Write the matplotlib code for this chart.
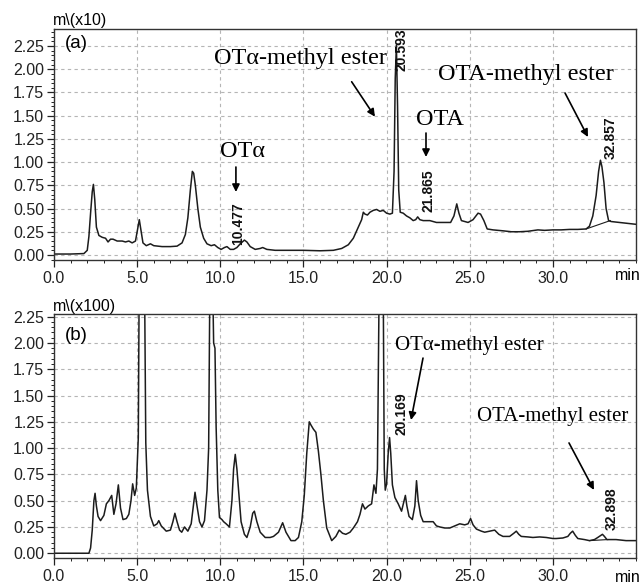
import matplotlib

matplotlib.use("Agg")

import matplotlib.pyplot as plt
from matplotlib.ticker import MultipleLocator, FormatStrFormatter

# chromatogram (a): retention time (min), signal (mV x10)
t_a = [0.0, 1.0, 1.8, 2.0, 2.1, 2.2, 2.3, 2.37, 2.45, 2.55, 2.7, 2.9, 3.1, 3.25, 3.4,
       3.55, 3.8, 4.1, 4.3, 4.5, 4.7, 4.9, 5.0, 5.13, 5.25, 5.35, 5.55, 5.8, 6.0, 6.5,
       7.0, 7.4, 7.7, 7.9, 8.05, 8.2, 8.32, 8.4, 8.5, 8.65, 8.8, 9.0, 9.2, 9.45, 9.65,
       9.85, 10.05, 10.25, 10.4, 10.6, 10.8, 11.0, 11.2, 11.45, 11.6, 11.8, 12.1, 12.4,
       12.55, 12.8, 13.3, 14.0, 15.0, 16.0, 16.8, 17.3, 17.7, 18.0, 18.3, 18.5, 18.6,
       18.7, 18.85, 19.0, 19.2, 19.4, 19.6, 19.8, 20.0, 20.2, 20.35, 20.45, 20.52, 20.59,
       20.66, 20.73, 20.82, 21.0, 21.2, 21.4, 21.6, 21.75, 21.87, 22.0, 22.2, 22.6, 23.0,
       23.5, 23.85, 24.05, 24.22, 24.35, 24.5, 24.9, 25.2, 25.5, 25.65, 25.85, 26.05,
       26.4, 27.0, 27.5, 28.0, 28.5, 29.1, 29.5, 30.0, 30.5, 31.0, 31.5, 32.0, 32.2, 32.4,
       32.6, 32.75, 32.86, 32.95, 33.07, 33.2, 33.35, 33.5, 34.0, 34.5, 35.0]
v_a = [0.01, 0.01, 0.015, 0.05, 0.2, 0.45, 0.68, 0.76, 0.6, 0.3, 0.21, 0.19, 0.18, 0.14, 0.17,
       0.17, 0.15, 0.15, 0.14, 0.15, 0.13, 0.15, 0.25, 0.38, 0.24, 0.13, 0.1, 0.12, 0.1, 0.09,
       0.09, 0.095, 0.13, 0.22, 0.4, 0.7, 0.9, 0.88, 0.75, 0.5, 0.3, 0.18, 0.12, 0.1, 0.11,
       0.08, 0.06, 0.08, 0.09, 0.06, 0.06, 0.08, 0.12, 0.16, 0.14, 0.09, 0.06, 0.07,
       0.08, 0.06, 0.05, 0.05, 0.05, 0.045, 0.05, 0.07, 0.11, 0.18, 0.3, 0.38, 0.46,
       0.44, 0.43, 0.46, 0.48, 0.49, 0.47, 0.48, 0.45, 0.44, 0.45, 0.9, 1.9, 2.26,
       1.6, 0.7, 0.46, 0.45, 0.42, 0.40, 0.37, 0.38, 0.41, 0.38, 0.37, 0.37, 0.35,
       0.35, 0.35, 0.42, 0.55, 0.45, 0.37, 0.35, 0.38, 0.45, 0.44, 0.37, 0.28,
       0.27, 0.26, 0.25, 0.25, 0.255, 0.27, 0.265, 0.27, 0.27, 0.275, 0.275, 0.28, 0.31, 0.42,
       0.64, 0.9, 1.02, 0.95, 0.78, 0.5, 0.37, 0.36, 0.35, 0.34, 0.33]

# chromatogram (b): retention time (min), signal (mV x100)
t_b = [0.0, 2.1, 2.2, 2.3, 2.4, 2.47, 2.55, 2.65, 2.8, 3.0, 3.15, 3.3, 3.47, 3.6, 3.73,
       3.87, 4.0, 4.15, 4.35, 4.5, 4.63, 4.73, 4.85, 4.95, 5.02, 5.07, 5.12, 5.2, 5.4,
       5.45, 5.52, 5.62, 5.8, 6.0, 6.2, 6.3, 6.45, 6.75, 7.0, 7.15, 7.27, 7.4, 7.55, 7.68,
       7.85, 8.05, 8.25, 8.38, 8.48, 8.6, 8.75, 8.9, 9.05, 9.2, 9.3, 9.37, 9.45, 9.55,
       9.6, 9.68, 9.75, 9.85, 9.95, 10.1, 10.2, 10.35, 10.55, 10.7, 10.8, 10.9, 11.0,
       11.1, 11.25, 11.45, 11.6, 11.8, 11.95, 12.05, 12.2, 12.4, 12.7, 13.0, 13.2, 13.5,
       13.75, 13.95, 14.25, 14.5, 14.7, 14.9, 15.05, 15.2, 15.35, 15.45, 15.6, 15.75,
       15.9, 16.05, 16.2, 16.4, 16.7, 16.95, 17.15, 17.35, 17.55, 17.8, 18.0, 18.25,
       18.4, 18.55, 18.7, 18.9, 19.1, 19.24, 19.36, 19.45, 19.55, 19.62, 19.75, 19.8,
       19.86, 19.92, 20.0, 20.1, 20.18, 20.25, 20.35, 20.5, 20.7, 20.9, 21.05, 21.13,
       21.22, 21.35, 21.55, 21.7, 21.8, 21.9, 22.05, 22.2, 22.5, 22.8, 23.0, 23.2, 23.5,
       23.8, 24.1, 24.4, 24.7, 24.9, 25.05, 25.2, 25.4, 25.7, 25.9, 26.2, 26.5, 26.75,
       27.0, 27.4, 27.65, 27.8, 27.95, 28.1, 28.5, 28.8, 29.2, 29.6, 30.0, 30.2, 30.6,
       30.9, 31.05, 31.19, 31.35, 31.5, 31.9, 32.2, 32.5, 32.7, 32.98, 33.1, 33.25, 33.8,
       34.4, 35.0]
v_b = [0.0, 0.0, 0.05, 0.22, 0.5, 0.57, 0.45, 0.35, 0.31, 0.36, 0.47, 0.5, 0.55, 0.37, 0.47,
       0.65, 0.43, 0.32, 0.33, 0.37, 0.5, 0.66, 0.55, 0.62, 0.9, 1.1, 2.5, 3.0, 3.0,
       2.5, 1.05, 0.6, 0.35, 0.26, 0.28, 0.31, 0.26, 0.21, 0.22, 0.3, 0.38, 0.3, 0.22, 0.2,
       0.25, 0.21, 0.28, 0.45, 0.58, 0.45, 0.3, 0.25, 0.31, 0.6, 1.0, 2.5, 3.0, 2.5,
       2.0, 1.95, 1.2, 0.6, 0.34, 0.32, 0.3, 0.28, 0.25, 0.5, 0.8, 0.94, 0.8,
       0.6, 0.3, 0.18, 0.15, 0.25, 0.38, 0.40, 0.3, 0.2, 0.15, 0.15, 0.16, 0.2,
       0.29, 0.2, 0.12, 0.12, 0.15, 0.3, 0.55, 0.95, 1.25, 1.22, 1.18, 1.15,
       0.97, 0.75, 0.5, 0.24, 0.12, 0.16, 0.22, 0.19, 0.18, 0.2, 0.24, 0.3,
       0.37, 0.47, 0.42, 0.45, 0.47, 0.65, 0.57, 0.8, 2.5, 3.0, 3.0, 2.5,
       0.8, 0.6, 0.66, 0.96, 1.1, 0.95, 0.65, 0.53, 0.47, 0.40, 0.5, 0.55,
       0.45, 0.35, 0.32, 0.45, 0.69, 0.5, 0.36, 0.30, 0.30, 0.30, 0.26, 0.25, 0.24,
       0.24, 0.26, 0.28, 0.27, 0.28, 0.33, 0.27, 0.23, 0.21, 0.20, 0.21, 0.22, 0.18,
       0.16, 0.16, 0.19, 0.21, 0.18, 0.16, 0.155, 0.15, 0.155, 0.15, 0.14, 0.14, 0.145,
       0.16, 0.19, 0.21, 0.17, 0.14, 0.13, 0.12, 0.13, 0.15, 0.18, 0.16, 0.13, 0.13,
       0.12, 0.12]

# integration baselines drawn under the labelled peaks
base_a_t = [32.0, 33.45]
base_a_v = [0.28, 0.37]
base_b_t = [32.2, 33.3]
base_b_v = [0.12, 0.13]

LINE = "#1c1c1c"
SANS = "Liberation Sans"
SERIF = "Liberation Serif"
TICK_SIZE = 11.5


def style_axes(ax, ylim):
    ax.set_xlim(0, 35)
    ax.set_ylim(*ylim)
    ax.xaxis.set_major_locator(MultipleLocator(5))
    ax.xaxis.set_minor_locator(MultipleLocator(1))
    ax.yaxis.set_major_locator(MultipleLocator(0.25))
    ax.yaxis.set_minor_locator(MultipleLocator(0.05))
    ax.xaxis.set_major_formatter(FormatStrFormatter("%.1f"))
    ax.yaxis.set_major_formatter(FormatStrFormatter("%.2f"))
    ax.tick_params(which="major", direction="out", length=5, width=0.9,
                   labelsize=TICK_SIZE, colors="#222222")
    ax.tick_params(which="minor", direction="out", length=2.5, width=0.7, colors="#222222")
    ax.tick_params(axis="x", pad=3)
    ax.tick_params(axis="y", pad=2)
    # last x label is replaced by the "min" unit text
    ax.set_xticks([0, 5, 10, 15, 20, 25, 30])
    for label in ax.get_xticklabels() + ax.get_yticklabels():
        label.set_fontfamily(SANS)
    ax.grid(True, which="major", color="#b5b5b5", linestyle=(0, (3, 3)), linewidth=0.8)
    ax.set_axisbelow(True)
    for spine in ax.spines.values():
        spine.set_color("#333333")
        spine.set_linewidth(1.0)


def arrow(ax, start, end):
    ax.annotate("", xy=end, xytext=start,
                arrowprops=dict(arrowstyle="-|>", color="black", lw=1.2,
                                mutation_scale=11, shrinkA=0, shrinkB=0))


def peak_label(ax, t, v, text):
    ax.text(t, v, text, rotation=90, ha="center", va="center", fontsize=10,
            fontweight="bold", family=SANS, color="#111111")


fig = plt.figure(figsize=(6.42, 5.85), dpi=100)
ax1 = fig.add_axes([0.0841, 0.5556, 0.9066, 0.3948])
ax2 = fig.add_axes([0.0841, 0.0462, 0.9066, 0.4170])

# ---- panel (a)
ax1.plot(t_a, v_a, color=LINE, linewidth=1.1)
ax1.plot(base_a_t, base_a_v, color=LINE, linewidth=0.8)
style_axes(ax1, (-0.054, 2.433))
ax1.text(0.66, 2.28, "(a)", fontsize=13.5, family=SANS, va="center", ha="left")
ax1.text(11.33, 1.11, "OTα", fontsize=17.5, family=SERIF, ha="center", va="center")
arrow(ax1, (10.94, 0.947), (10.94, 0.678))
peak_label(ax1, 11.06, 0.334, "10.477")
ax1.text(14.79, 2.12, "OTα-methyl ester", fontsize=17.5, family=SERIF, ha="center", va="center")
arrow(ax1, (17.9, 1.865), (19.3, 1.489))
peak_label(ax1, 20.87, 2.207, "20.593")
ax1.text(23.2, 1.464, "OTA", fontsize=17.5, family=SERIF, ha="center", va="center")
arrow(ax1, (22.37, 1.313), (22.37, 1.055))
peak_label(ax1, 22.55, 0.689, "21.865")
ax1.text(28.38, 1.938, "OTA-methyl ester", fontsize=17.5, family=SERIF, ha="center", va="center")
arrow(ax1, (30.73, 1.744), (32.11, 1.27))
peak_label(ax1, 33.49, 1.259, "32.857")

# ---- panel (b)
ax2.plot(t_b, v_b, color=LINE, linewidth=1.1)
ax2.plot(base_b_t, base_b_v, color=LINE, linewidth=0.8)
style_axes(ax2, (-0.045, 2.275))
ax2.text(0.66, 2.075, "(b)", fontsize=13.5, family=SANS, va="center", ha="left")
ax2.text(25.0, 1.98, "OTα-methyl ester", fontsize=15, family=SERIF, ha="center", va="center")
arrow(ax2, (22.19, 1.856), (21.47, 1.267))
peak_label(ax2, 20.87, 1.324, "20.169")
ax2.text(29.98, 1.305, "OTA-methyl ester", fontsize=15, family=SERIF, ha="center", va="center")
arrow(ax2, (30.97, 1.049), (32.47, 0.602))
peak_label(ax2, 33.55, 0.421, "32.898")

# unit labels
fig.text(53 / 642, 1 - 20 / 585, r"m\(x10)", fontsize=TICK_SIZE, family=SANS, va="center", ha="left")
fig.text(53 / 642, 1 - 307 / 585, r"m\(x100)", fontsize=TICK_SIZE, family=SANS, va="center", ha="left")
fig.text(641 / 642, 1 - 276 / 585, "min", fontsize=TICK_SIZE, family=SANS, va="center", ha="right")
fig.text(641 / 642, 1 - 577 / 585, "min", fontsize=TICK_SIZE, family=SANS, va="center", ha="right")

fig.savefig("out.png", dpi=100)
